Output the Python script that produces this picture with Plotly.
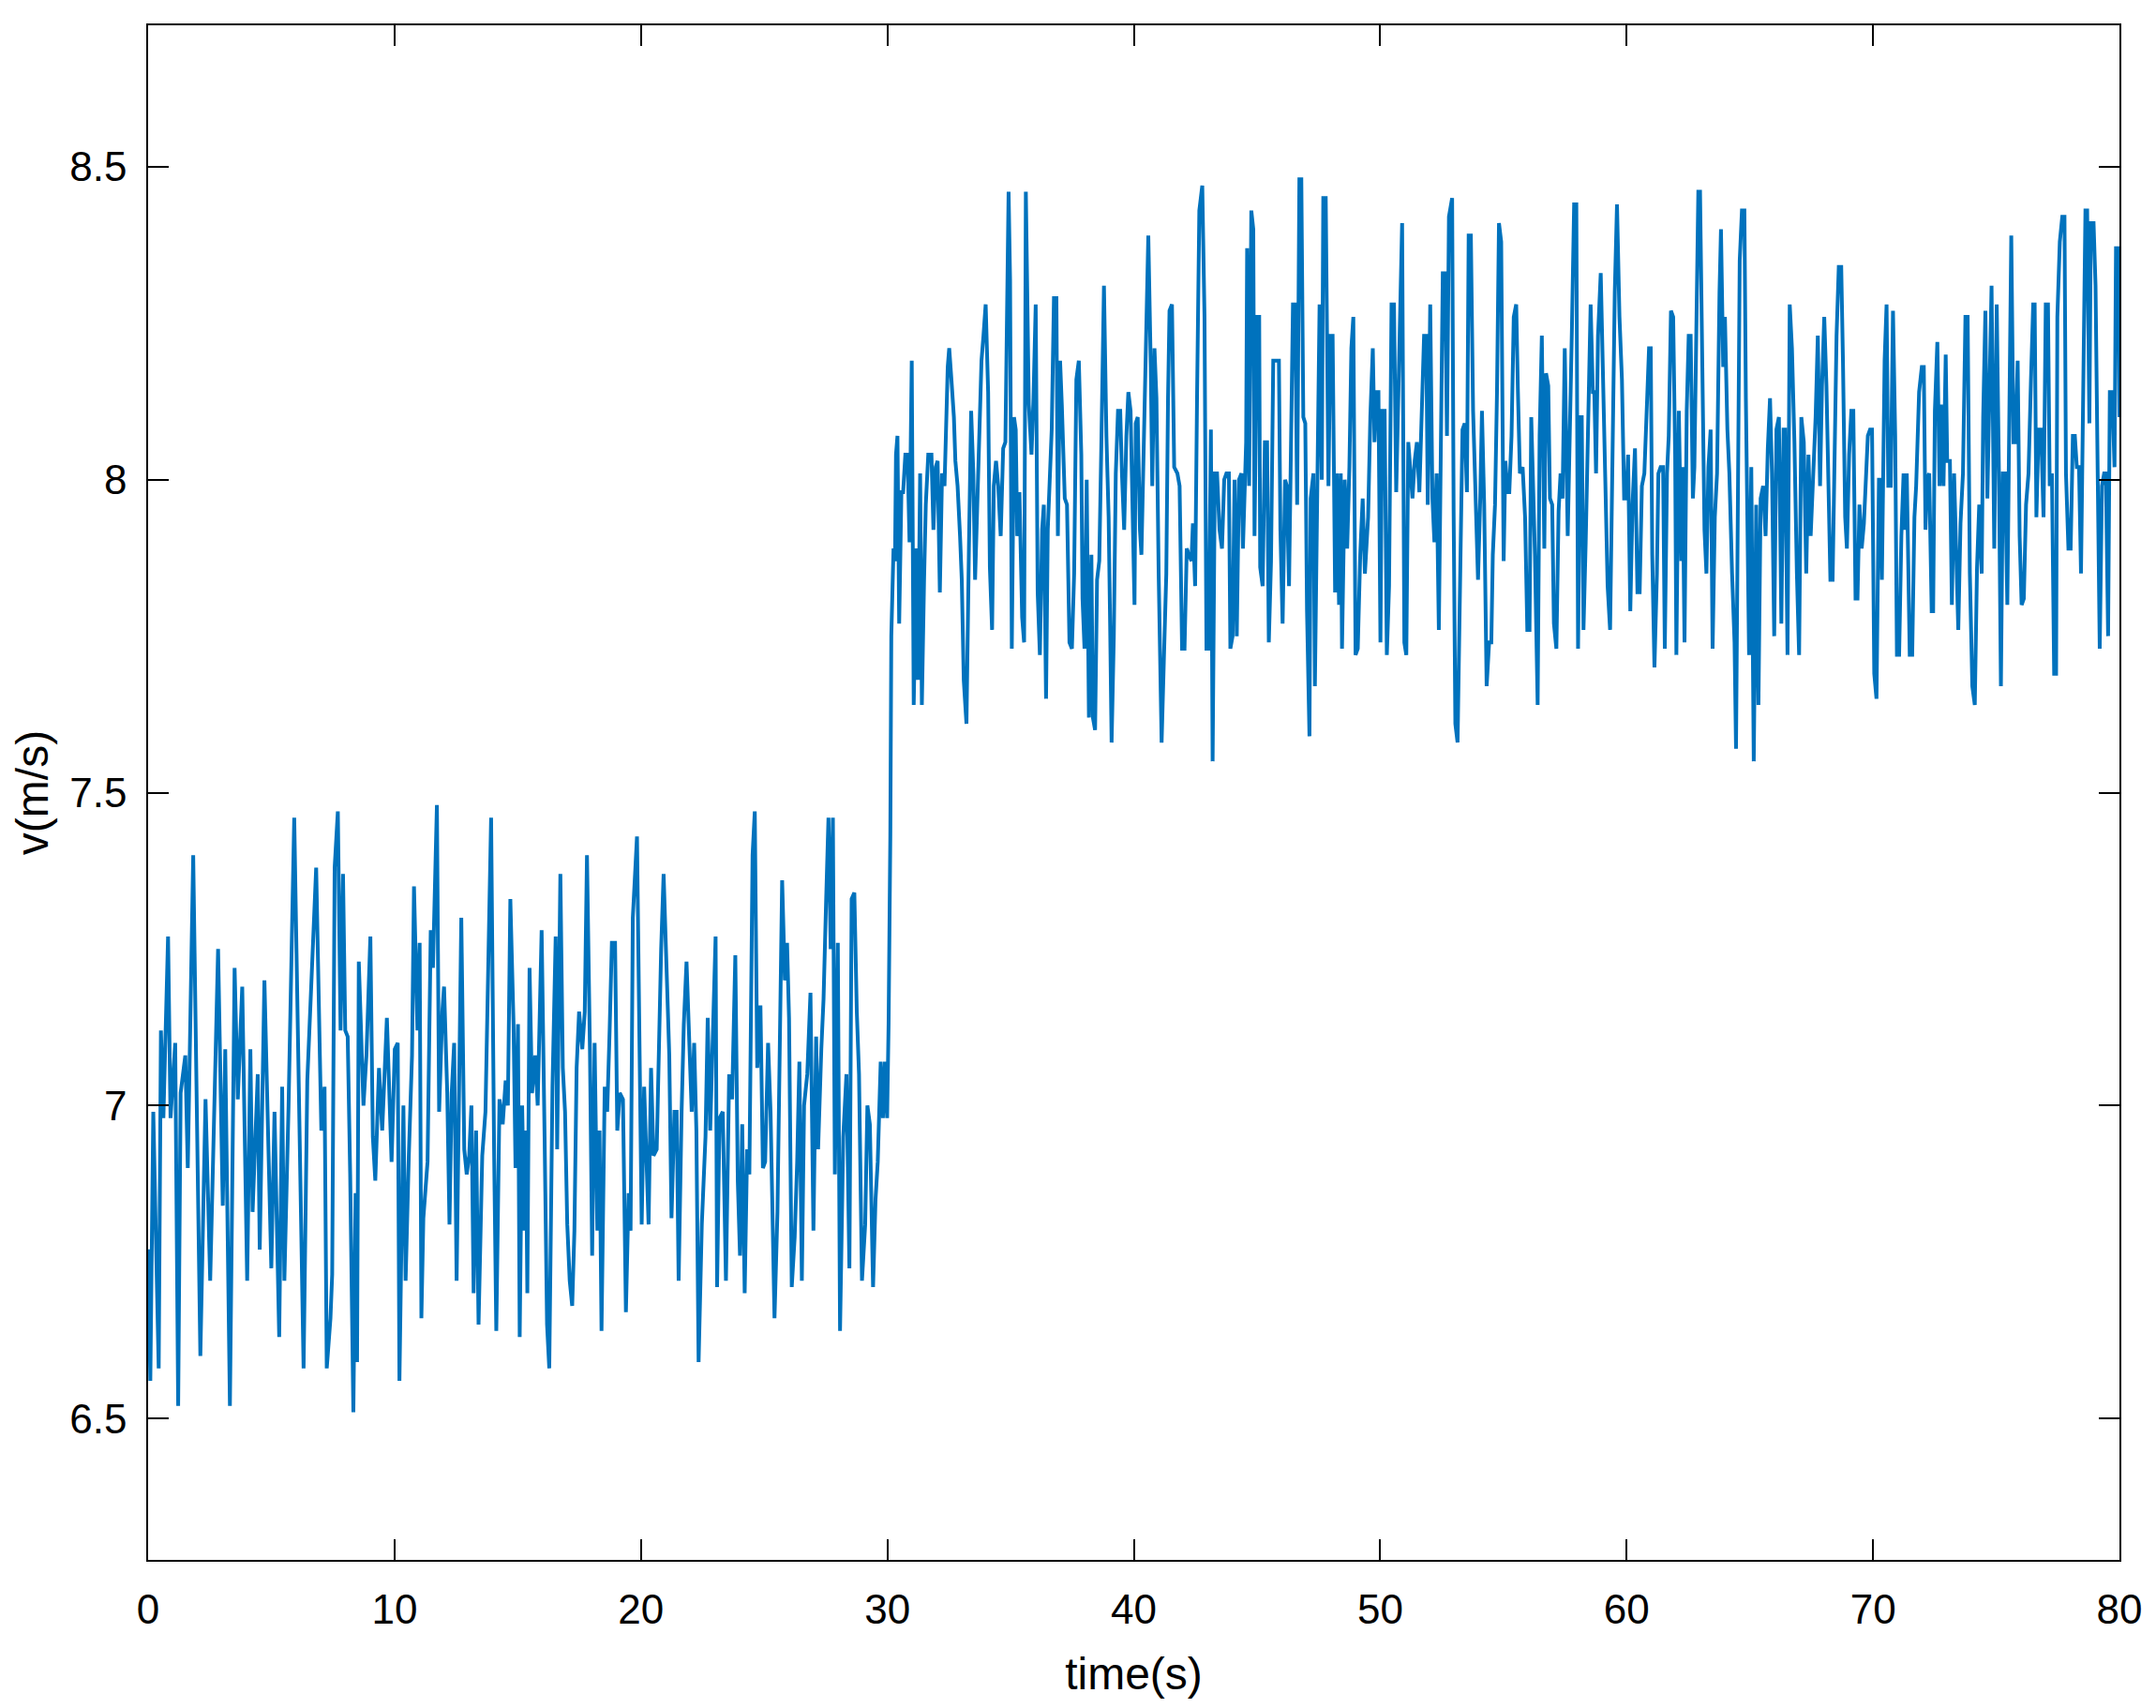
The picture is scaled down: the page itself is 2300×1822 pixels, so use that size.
import plotly.graph_objects as go

# (time [s], speed [m/s]), before the step (t < 30 s)
low_phase = [
    (0.00, 6.77), (0.09, 6.56), (0.21, 6.99), (0.43, 6.58), (0.52, 7.12), (0.62, 6.98), (0.81, 7.27), (0.91, 6.98),
    (1.10, 7.10), (1.22, 6.52), (1.32, 7.02), (1.51, 7.08), (1.61, 6.90), (1.83, 7.40), (2.12, 6.60), (2.33, 7.01),
    (2.52, 6.72), (2.84, 7.25), (3.03, 6.84), (3.13, 7.09), (3.32, 6.52), (3.51, 7.22), (3.64, 7.01), (3.82, 7.19),
    (4.02, 6.72), (4.15, 7.09), (4.24, 6.83), (4.45, 7.05), (4.53, 6.77), (4.72, 7.20), (5.00, 6.74), (5.13, 6.99),
    (5.32, 6.63), (5.44, 7.03), (5.53, 6.72), (5.70, 7.00), (5.93, 7.46), (6.31, 6.58), (6.46, 7.04), (6.82, 7.38),
    (7.03, 6.96), (7.16, 7.03), (7.25, 6.58),
    (7.40, 6.66), (7.47, 6.73), (7.57, 7.38), (7.70, 7.47), (7.81, 7.12), (7.91, 7.37), (8.00, 7.12), (8.10, 7.11),
    (8.20, 6.89), (8.33, 6.51), (8.42, 6.86), (8.48, 6.59), (8.55, 7.23), (8.74, 7.00), (8.86, 7.08), (9.02, 7.27),
    (9.12, 6.95), (9.22, 6.88), (9.37, 7.06), (9.50, 6.96), (9.69, 7.14), (9.88, 6.91), (10.01, 7.09), (10.13, 7.10),
    (10.20, 6.56), (10.36, 7.00), (10.45, 6.72), (10.58, 6.92), (10.71, 7.08), (10.79, 7.35), (10.93, 7.12), (11.02, 7.26),
    (11.09, 6.66), (11.17, 6.82), (11.34, 6.91), (11.47, 7.28), (11.56, 7.22), (11.72, 7.48), (11.81, 6.99), (11.94, 7.15),
    (12.01, 7.19), (12.14, 7.02), (12.23, 6.81), (12.32, 7.02), (12.42, 7.10), (12.52, 6.72), (12.61, 7.04), (12.71, 7.30),
    (12.83, 6.93), (12.93, 6.89), (13.03, 6.92), (13.12, 7.00), (13.21, 6.70), (13.31, 6.96), (13.41, 6.65), (13.56, 6.92),
    (13.69, 6.99), (13.75, 7.10), (13.92, 7.46), (14.04, 6.93), (14.13, 6.64), (14.26, 7.01), (14.39, 6.97), (14.51, 7.04),
    (14.60, 7.00), (14.70, 7.33), (14.83, 7.13), (14.91, 6.90),
    (15.01, 7.13), (15.08, 6.63), (15.18, 7.00), (15.27, 6.80), (15.33, 6.96), (15.39, 6.70), (15.48, 7.22), (15.58, 7.02),
    (15.71, 7.08), (15.81, 7.00), (15.97, 7.28), (16.09, 6.95), (16.19, 6.65), (16.28, 6.58), (16.35, 6.85), (16.41, 7.03),
    (16.54, 7.27), (16.60, 6.93), (16.73, 7.37), (16.83, 7.06), (16.92, 6.99), (17.01, 6.81), (17.11, 6.72), (17.21, 6.68),
    (17.30, 6.80), (17.39, 7.06), (17.49, 7.15), (17.62, 7.09), (17.72, 7.15), (17.81, 7.40), (17.93, 7.09), (18.02, 6.76),
    (18.12, 7.10), (18.23, 6.80), (18.32, 6.96), (18.40, 6.64), (18.53, 7.03), (18.63, 6.99), (18.73, 7.12), (18.82, 7.26),
    (18.95, 7.26), (19.04, 6.96), (19.14, 7.02), (19.27, 7.01), (19.39, 6.67), (19.50, 6.86), (19.58, 6.80), (19.67, 7.30),
    (19.84, 7.43), (19.97, 6.99), (20.03, 6.81), (20.13, 7.03), (20.22, 6.93), (20.31, 6.81), (20.41, 7.06), (20.51, 6.92),
    (20.64, 6.93), (20.73, 7.12), (20.82, 7.25), (20.92, 7.37), (21.05, 7.19), (21.15, 7.08), (21.24, 6.82), (21.36, 6.99),
    (21.45, 6.99), (21.53, 6.72), (21.65, 6.99), (21.74, 7.13), (21.85, 7.23), (21.96, 7.12), (22.06, 6.99), (22.16, 7.10),
    (22.25, 6.96), (22.34, 6.59), (22.47, 6.81),
    (22.62, 6.95), (22.71, 7.14), (22.81, 6.96), (22.94, 7.18), (23.03, 7.27), (23.09, 6.71), (23.19, 6.98), (23.32, 6.99),
    (23.45, 6.72), (23.58, 7.05), (23.70, 7.01), (23.83, 7.24), (23.93, 6.88), (24.02, 6.76), (24.11, 6.97), (24.21, 6.70),
    (24.31, 6.93), (24.40, 6.89), (24.53, 7.40), (24.62, 7.47), (24.72, 7.06), (24.85, 7.16), (24.95, 6.90), (25.04, 6.91),
    (25.16, 7.10), (25.26, 6.99), (25.35, 6.83), (25.42, 6.66), (25.54, 6.83), (25.63, 7.05), (25.73, 7.36), (25.84, 7.20),
    (25.93, 7.26), (26.01, 7.14), (26.12, 6.71), (26.24, 6.79), (26.34, 6.91), (26.43, 7.07), (26.53, 6.72), (26.62, 7.00),
    (26.75, 7.05), (26.88, 7.18), (27.00, 6.80), (27.11, 7.11), (27.19, 6.93), (27.32, 7.09), (27.41, 7.17), (27.51, 7.32),
    (27.61, 7.46), (27.70, 7.25), (27.79, 7.46), (27.87, 6.89), (27.99, 7.26), (28.08, 6.64), (28.21, 6.95), (28.34, 7.05),
    (28.46, 6.74), (28.55, 7.33), (28.66, 7.34), (28.76, 7.15), (28.85, 7.05), (28.97, 6.72), (29.10, 6.81), (29.19, 7.00),
    (29.29, 6.97), (29.42, 6.71), (29.52, 6.85), (29.61, 6.91), (29.73, 7.07), (29.82, 6.98), (29.90, 7.07), (29.99, 6.98),
    (30.05, 7.13),
]

# (time [s], speed [m/s]), after the step (t >= 30 s)
high_phase = [
    (30.12, 7.43), (30.16, 7.75), (30.25, 7.89), (30.31, 7.87), (30.35, 8.04), (30.41, 8.07), (30.48, 7.77), (30.57, 7.98),
    (30.64, 7.98), (30.73, 8.04), (30.82, 8.04), (30.90, 7.90), (30.99, 8.19), (31.07, 7.64), (31.18, 7.89), (31.24, 7.68),
    (31.33, 8.01), (31.40, 7.64), (31.49, 7.84), (31.56, 7.96), (31.66, 8.04), (31.79, 8.04), (31.87, 7.92), (31.96, 8.02),
    (32.04, 8.03), (32.13, 7.82), (32.22, 8.01), (32.32, 7.99), (32.45, 8.18), (32.51, 8.21), (32.60, 8.16), (32.70, 8.10),
    (32.76, 8.03), (32.85, 7.99), (32.95, 7.91), (33.02, 7.84), (33.10, 7.68), (33.21, 7.61), (33.31, 7.89), (33.40, 8.11),
    (33.49, 8.01), (33.56, 7.84), (33.65, 7.96), (33.71, 8.06), (33.82, 8.19), (33.90, 8.23), (33.99, 8.28), (34.09, 8.14),
    (34.16, 7.86), (34.25, 7.76), (34.32, 7.99), (34.41, 8.03), (34.50, 7.99), (34.60, 7.91), (34.70, 8.05), (34.79, 8.06),
    (34.86, 8.35), (34.92, 8.46), (34.98, 8.32), (35.05, 7.73), (35.14, 8.10), (35.21, 8.08), (35.27, 7.91), (35.36, 7.98),
    (35.47, 7.78), (35.55, 7.74), (35.62, 8.46), (35.69, 8.28), (35.74, 8.12), (35.85, 8.04), (35.93, 8.13), (36.02, 8.28),
    (36.10, 7.82), (36.19, 7.72), (36.28, 7.92), (36.35, 7.96), (36.44, 7.65), (36.51, 7.92), (36.61, 8.05), (36.67, 8.08),
    (36.76, 8.29), (36.86, 8.29), (36.92, 7.91), (37.01, 8.19), (37.08, 8.12),
    (37.20, 7.97), (37.29, 7.96), (37.39, 7.74), (37.49, 7.73), (37.58, 7.85), (37.67, 8.16), (37.77, 8.19), (37.87, 8.04),
    (37.92, 7.81), (38.00, 7.73), (38.09, 8.00), (38.18, 7.62), (38.28, 7.88), (38.34, 7.62), (38.43, 7.60), (38.51, 7.84),
    (38.60, 7.87), (38.69, 8.07), (38.79, 8.31), (38.89, 8.07), (38.98, 7.94), (39.04, 7.77), (39.10, 7.58), (39.19, 7.75),
    (39.27, 8.01), (39.36, 8.11), (39.45, 8.11), (39.52, 8.01), (39.61, 7.92), (39.70, 8.07), (39.78, 8.14), (39.87, 8.11),
    (39.95, 7.96), (40.03, 7.80), (40.08, 8.09), (40.16, 8.10), (40.25, 7.92), (40.31, 7.88), (40.37, 7.99), (40.44, 8.14),
    (40.50, 8.27), (40.59, 8.39), (40.69, 8.18), (40.75, 7.99), (40.84, 8.21), (40.92, 8.13), (41.01, 7.85), (41.13, 7.58),
    (41.22, 7.71), (41.32, 7.85), (41.39, 8.13), (41.45, 8.27), (41.55, 8.28), (41.64, 8.02), (41.77, 8.01), (41.86, 7.99),
    (41.96, 7.73), (42.06, 7.73), (42.15, 7.89), (42.24, 7.88), (42.34, 7.87), (42.40, 7.93), (42.49, 7.83), (42.57, 8.14),
    (42.66, 8.43), (42.78, 8.47), (42.87, 8.26), (42.95, 7.73), (43.04, 7.73), (43.13, 8.08), (43.20, 7.55), (43.29, 8.01),
    (43.38, 8.01), (43.48, 7.92), (43.58, 7.89), (43.67, 8.00), (43.76, 8.01), (43.86, 8.01),
    (43.92, 7.73), (44.01, 7.75), (44.09, 8.00), (44.18, 7.75), (44.27, 8.00), (44.37, 8.01), (44.43, 7.89), (44.56, 8.06),
    (44.60, 8.37), (44.68, 7.99), (44.77, 8.43), (44.85, 8.40), (44.90, 7.91), (45.00, 8.26), (45.09, 8.26), (45.13, 7.86),
    (45.23, 7.83), (45.32, 8.06), (45.41, 8.06), (45.48, 7.74), (45.57, 7.87), (45.66, 8.19), (45.76, 8.19), (45.89, 8.19),
    (45.95, 7.92), (46.04, 7.77), (46.14, 8.00), (46.21, 7.99), (46.30, 7.83), (46.40, 8.09), (46.46, 8.28), (46.55, 8.28),
    (46.63, 7.96), (46.72, 8.48), (46.80, 8.48), (46.88, 8.10), (46.96, 8.09), (47.03, 7.79), (47.13, 7.59), (47.18, 7.97),
    (47.29, 8.01), (47.35, 7.67), (47.45, 8.02), (47.54, 8.28), (47.63, 8.00), (47.69, 8.45), (47.79, 8.45), (47.90, 7.99),
    (47.98, 8.23), (48.07, 8.23), (48.17, 7.82), (48.24, 8.01), (48.33, 7.80), (48.40, 8.01), (48.45, 7.73), (48.56, 8.00),
    (48.66, 7.89), (48.75, 8.02), (48.83, 8.21), (48.91, 8.26), (49.00, 7.72), (49.09, 7.73), (49.19, 7.88), (49.29, 7.97),
    (49.38, 7.85), (49.51, 7.94), (49.60, 8.10), (49.70, 8.21), (49.77, 8.06), (49.85, 8.14), (49.93, 8.14), (50.01, 7.74),
    (50.08, 8.11), (50.18, 8.11), (50.27, 7.72), (50.36, 7.83), (50.46, 8.28), (50.56, 8.28), (50.65, 7.98),
    (50.80, 8.22), (50.89, 8.41), (50.98, 7.74), (51.06, 7.72), (51.14, 8.06), (51.23, 8.01), (51.31, 7.97), (51.40, 8.03),
    (51.49, 8.06), (51.59, 7.98), (51.69, 8.09), (51.78, 8.23), (51.87, 8.23), (51.93, 7.96), (52.03, 8.28), (52.12, 7.97),
    (52.20, 7.90), (52.29, 8.01), (52.38, 7.76), (52.48, 8.15), (52.54, 8.33), (52.63, 8.33), (52.71, 8.07), (52.79, 8.42),
    (52.92, 8.45), (52.98, 7.95), (53.05, 7.61), (53.14, 7.58), (53.24, 7.80), (53.34, 8.08), (53.43, 8.09), (53.52, 7.98),
    (53.59, 8.39), (53.68, 8.39), (53.77, 8.11), (53.87, 7.97), (53.97, 7.84), (54.06, 7.97), (54.13, 8.11), (54.22, 7.96),
    (54.32, 7.67), (54.42, 7.74), (54.51, 7.74), (54.57, 7.88), (54.66, 7.96), (54.74, 8.14), (54.82, 8.41), (54.91, 8.38),
    (55.01, 7.87), (55.08, 8.03), (55.17, 7.98), (55.24, 7.98), (55.33, 8.07), (55.42, 8.26), (55.52, 8.28), (55.59, 8.14),
    (55.67, 8.01), (55.78, 8.02), (55.88, 7.94), (55.97, 7.76), (56.06, 7.76), (56.13, 8.10), (56.22, 7.96), (56.28, 7.88),
    (56.39, 7.64), (56.47, 8.07), (56.56, 8.23), (56.66, 7.89), (56.73, 8.17), (56.82, 8.15), (56.89, 7.97), (56.98, 7.96),
    (57.05, 7.77), (57.15, 7.73), (57.24, 7.95), (57.32, 8.01), (57.40, 7.97), (57.49, 8.21),
    (57.61, 7.91), (57.68, 8.08), (57.78, 8.24), (57.87, 8.44), (57.96, 8.44), (58.03, 7.73), (58.12, 8.10), (58.18, 8.10),
    (58.25, 7.76), (58.34, 7.90), (58.44, 8.09), (58.54, 8.28), (58.63, 8.14), (58.69, 8.14), (58.76, 8.01), (58.84, 8.23),
    (58.95, 8.33), (59.05, 8.17), (59.14, 8.01), (59.23, 7.83), (59.33, 7.76), (59.43, 8.04), (59.52, 8.30), (59.61, 8.44),
    (59.71, 8.26), (59.81, 8.16), (59.90, 7.97), (59.99, 7.97), (60.06, 8.04), (60.15, 7.79), (60.24, 7.96), (60.34, 8.05),
    (60.44, 7.82), (60.53, 7.82), (60.62, 7.99), (60.72, 8.01), (60.82, 8.12), (60.91, 8.21), (60.98, 8.21), (61.04, 7.88),
    (61.13, 7.70), (61.23, 7.85), (61.29, 8.01), (61.38, 8.02), (61.48, 8.02), (61.55, 7.73), (61.64, 8.01), (61.71, 8.07),
    (61.80, 8.27), (61.89, 8.26), (61.97, 8.04), (62.02, 7.72), (62.12, 8.11), (62.22, 7.87), (62.27, 8.02), (62.35, 7.74),
    (62.44, 8.11), (62.52, 8.23), (62.60, 8.23), (62.69, 7.97), (62.75, 8.02), (62.85, 8.28), (62.91, 8.46), (62.98, 8.46),
    (63.07, 8.19), (63.16, 7.92), (63.24, 7.85), (63.32, 8.02), (63.41, 8.08), (63.49, 7.73), (63.58, 7.94), (63.67, 8.01),
    (63.77, 8.30), (63.83, 8.40), (63.92, 8.18), (63.99, 8.26), (64.09, 8.08), (64.17, 8.01), (64.28, 7.85), (64.38, 7.74),
    (64.44, 7.57), (64.50, 7.96), (64.59, 8.35), (64.68, 8.43), (64.78, 8.43), (64.84, 8.13), (64.91, 7.91), (64.97, 7.72),
    (65.06, 8.02), (65.16, 7.55), (65.26, 7.96), (65.35, 7.64), (65.44, 7.97), (65.54, 7.99), (65.64, 7.91), (65.73, 8.05),
    (65.82, 8.13), (65.90, 8.01), (65.99, 7.75), (66.08, 8.08), (66.18, 8.10), (66.28, 7.77), (66.37, 8.08), (66.43, 8.08),
    (66.53, 7.72), (66.62, 8.28), (66.71, 8.21), (66.81, 8.06), (66.91, 7.85), (67.00, 7.72), (67.09, 8.10), (67.19, 8.06),
    (67.29, 7.85), (67.38, 8.04), (67.47, 7.91), (67.57, 7.99), (67.67, 8.10), (67.76, 8.23), (67.85, 7.99), (67.93, 8.15),
    (68.02, 8.26), (68.11, 8.15), (68.18, 8.04), (68.27, 7.84), (68.36, 7.84), (68.44, 8.01), (68.52, 8.23), (68.61, 8.34),
    (68.71, 8.34), (68.78, 8.19), (68.87, 7.94), (68.94, 7.89), (69.03, 8.04), (69.12, 8.11), (69.20, 8.11), (69.29, 7.81),
    (69.37, 7.81), (69.45, 7.96), (69.54, 7.89), (69.63, 7.93), (69.70, 8.01), (69.79, 8.07), (69.88, 8.08), (69.96, 8.08),
    (70.05, 7.69), (70.14, 7.65), (70.24, 8.00), (70.30, 8.00), (70.36, 7.84), (70.47, 8.19), (70.55, 8.28), (70.62, 7.99),
    (70.72, 7.99), (70.81, 8.27), (70.90, 8.07), (70.97, 7.72), (71.06, 7.72), (71.15, 7.91),
    (71.24, 8.01), (71.30, 7.92), (71.37, 8.01), (71.43, 7.80), (71.49, 7.72), (71.59, 7.72), (71.68, 7.94), (71.75, 7.99),
    (71.81, 8.05), (71.87, 8.14), (71.98, 8.18), (72.06, 8.18), (72.13, 7.92), (72.19, 8.00), (72.28, 8.01), (72.38, 7.79),
    (72.44, 7.79), (72.51, 8.11), (72.61, 8.22), (72.70, 7.99), (72.76, 8.12), (72.86, 7.99), (72.95, 8.20), (73.01, 8.03),
    (73.12, 8.03), (73.20, 7.80), (73.29, 8.01), (73.37, 7.87), (73.46, 7.76), (73.55, 7.93), (73.65, 8.01), (73.75, 8.26),
    (73.84, 8.26), (73.93, 7.85), (74.03, 7.67), (74.13, 7.64), (74.22, 7.86), (74.31, 7.96), (74.41, 7.85), (74.47, 8.10),
    (74.56, 8.27), (74.64, 7.97), (74.73, 8.19), (74.81, 8.31), (74.92, 7.89), (75.02, 8.28), (75.11, 8.01), (75.19, 7.67),
    (75.27, 8.01), (75.36, 8.01), (75.45, 7.80), (75.55, 8.14), (75.61, 8.39), (75.70, 8.06), (75.78, 8.06), (75.87, 8.19),
    (75.95, 7.91), (76.03, 7.80), (76.12, 7.81), (76.21, 7.96), (76.31, 8.01), (76.41, 8.16), (76.50, 8.28), (76.56, 8.28),
    (76.63, 7.94), (76.72, 8.08), (76.82, 8.08), (76.92, 7.94), (77.01, 8.28), (77.10, 8.28), (77.17, 7.99), (77.26, 8.01),
    (77.35, 7.69), (77.43, 7.69), (77.48, 8.26), (77.58, 8.38), (77.68, 8.42), (77.77, 8.42), (77.83, 8.01), (77.93, 7.89),
    (78.02, 7.89), (78.11, 8.07), (78.19, 8.07), (78.27, 8.02), (78.36, 8.02), (78.44, 7.85), (78.53, 8.15), (78.62, 8.43),
    (78.69, 8.43), (78.78, 8.09), (78.84, 8.41), (78.95, 8.41), (79.03, 8.31), (79.10, 8.08), (79.20, 7.73), (79.29, 7.99),
    (79.38, 8.01), (79.45, 8.01), (79.54, 7.75), (79.61, 8.14), (79.71, 8.14), (79.80, 8.02), (79.86, 8.37), (79.96, 8.37),
    (80.00, 8.10),
]

x_ticks = [0, 10, 20, 30, 40, 50, 60, 70, 80]
y_ticks = [6.5, 7, 7.5, 8, 8.5]
y_tick_labels = ["6.5", "7", "7.5", "8", "8.5"]

samples = low_phase + high_phase
time_s = [p[0] for p in samples]
speed = [p[1] for p in samples]

FONT = "Liberation Sans, Arial, Helvetica, sans-serif"

fig = go.Figure()
fig.add_trace(go.Scatter(
    x=time_s, y=speed, mode="lines",
    line=dict(color="#0072BD", width=4),
    showlegend=False, hoverinfo="skip",
))

axis_common = dict(
    showgrid=False, zeroline=False,
    showline=True, linecolor="black", linewidth=1.5,
    mirror="ticks", ticks="inside", ticklen=22, tickwidth=1.5, tickcolor="black",
    tickfont=dict(family=FONT, size=44, color="black"),
)

fig.update_layout(
    width=2300, height=1822,
    paper_bgcolor="white", plot_bgcolor="white",
    margin=dict(l=150, r=47, t=19, b=166, autoexpand=False),
    font=dict(family=FONT, color="black"),
    xaxis=dict(
        range=[0, 80], tickvals=x_ticks, ticklabelstandoff=13,
        title=dict(text="time(s)", font=dict(family=FONT, size=48, color="black"), standoff=29),
        **axis_common,
    ),
    yaxis=dict(
        range=[6.274, 8.726], tickvals=y_ticks, ticktext=y_tick_labels, ticklabelstandoff=12,
        title=dict(text="v(m/s)", font=dict(family=FONT, size=48, color="black"), standoff=17),
        **axis_common,
    ),
)

fig.write_html("out.html")
